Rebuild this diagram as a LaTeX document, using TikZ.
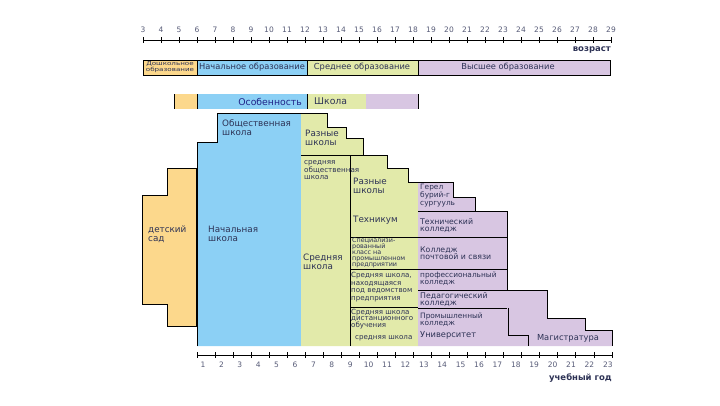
\documentclass[tikz,border=0pt]{standalone}
\usepackage{fontspec}
\setmainfont{DejaVu Sans}
\newfontfamily\widesans[FakeStretch=1.3]{DejaVu Sans}

\definecolor{kindercol}{RGB}{252,216,140}
\definecolor{primcol}{RGB}{140,208,245}
\definecolor{midcol}{RGB}{226,234,170}
\definecolor{highcol}{RGB}{216,198,226}
\definecolor{txtcol}{RGB}{45,50,85}

\begin{document}
\begin{tikzpicture}[x=1pt,y=-1pt,
    edge/.style={draw=black,line width=0.7pt},
    numlbl/.style={inner sep=0pt,text=txtcol!80,font=\fontsize{7.5}{8}\selectfont},
    boldlbl/.style={inner sep=0pt,text=txtcol,font=\bfseries\fontsize{8.5}{9}\selectfont},
    barlbl/.style={inner sep=0pt,text=txtcol,font=\fontsize{8.3}{9}\selectfont},
    biglbl/.style={inner sep=0pt,anchor=west,align=left,text=txtcol,font=\fontsize{8.8}{8.8}\selectfont},
    lbl/.style={inner sep=0pt,anchor=west,align=left,text=txtcol,font=\fontsize{7.8}{7.4}\selectfont},
    smalllbl/.style={inner sep=0pt,anchor=west,align=left,text=txtcol,font=\fontsize{6.4}{5.9}\selectfont}]
  \useasboundingbox (0,0) rectangle (720,405);

  % age axis
  \draw[edge] (143,40) -- (611,40);
  \foreach \n in {3,...,29} {
    \draw[edge] ({143+(\n-3)*18},37) -- ++(0,6);
    \node[numlbl] (a\n) at ({143+(\n-3)*18},30) {\n};
  }
  \node[boldlbl,anchor=east] (age) at (611,50) {возраст};

  % first bar
  \fill[kindercol] (143,60) rectangle (197,75);
  \fill[primcol] (197,60) rectangle (307,75);
  \fill[midcol] (307,60) rectangle (418,75);
  \fill[highcol] (418,60) rectangle (610,75);
  \draw[edge] (143,60) rectangle (610,75);
  \foreach \x in {197,307,418}
    \draw[edge] (\x,60) -- (\x,75);
  \node[inner sep=0pt,align=center,text=txtcol,font=\widesans\fontsize{5.5}{6}\selectfont]
    (pre) at (170,67.5) {Дошкольное\\образование};
  \node[barlbl] (primedu) at (252,67.5) {Начальное образование};
  \node[barlbl] (midedu) at (362,67.5) {Среднее образование};
  \node[barlbl] (highedu) at (508,67.5) {Высшее образование};

  % second bar
  \fill[kindercol] (174,94) rectangle (197,109);
  \fill[primcol] (197,94) rectangle (307,109);
  \fill[midcol] (307,94) rectangle (366,109);
  \fill[highcol] (366,94) rectangle (418,109);
  \foreach \x in {174,197,307,418}
    \draw[edge] (\x,94) -- (\x,109);
  \node[inner sep=0pt,anchor=east,text=txtcol!70!blue,font=\fontsize{9.3}{9}\selectfont]
    (feat) at (302,101.5) {Особенность};
  \node[inner sep=0pt,anchor=west,text=txtcol,font=\fontsize{9.3}{9}\selectfont]
    (school) at (314,101.5) {Школа};

  % kindergarten
  \fill[kindercol] (167,168) -- (196,168) -- (196,326) -- (167,326) -- (167,304)
    -- (142,304) -- (142,195) -- (167,195) -- cycle;
  \draw[edge] (167,168) -- (196,168) -- (196,326) -- (167,326) -- (167,304)
    -- (142,304) -- (142,195) -- (167,195) -- cycle;
  \node[biglbl] (kg) at (148,234) {детский\\сад};

  % primary school
  \fill[primcol] (197,142) -- (217,142) -- (217,113) -- (301,113) -- (301,346)
    -- (197,346) -- cycle;
  \draw[edge] (197,346) -- (197,142) -- (217,142) -- (217,113) -- (301,113);
  \node[biglbl] (pub) at (222,127.5) {Общественная\\школа};
  \node[biglbl] (prim) at (208,234) {Начальная\\школа};

  % secondary school
  \fill[midcol] (301,113) -- (327,113) -- (327,127) -- (346,127) -- (346,138)
    -- (363,138) -- (363,155) -- (387,155) -- (387,168) -- (408,168) -- (408,182)
    -- (418,182) -- (418,346) -- (301,346) -- cycle;
  \draw[edge] (301,113) -- (327,113) -- (327,127) -- (346,127) -- (346,138)
    -- (363,138) -- (363,155) -- (387,155) -- (387,168) -- (408,168) -- (408,182)
    -- (418,182) -- (418,346);
  \draw[edge] (301,155) -- (363,155);
  \draw[edge] (350,155) -- (350,346);
  \foreach \y in {237,269,307}
    \draw[edge] (350,\y) -- (418,\y);
  \node[biglbl] (var1) at (305,138) {Разные\\школы};
  \node[lbl,font=\fontsize{7.2}{6.9}\selectfont] (midpub) at (304,170)
    {средняя\\общественная\\школа};
  \node[biglbl] (mid) at (303,261.5) {Средняя\\школа};
  \node[biglbl] (var2) at (353,186) {Разные\\школы};
  \node[biglbl] (tech) at (353,220) {Техникум};
  \node[smalllbl] (spec) at (352,252.5)
    {Специализи-\\рованный\\класс на\\промышленном\\предприятии};
  \node[lbl,font=\fontsize{7.1}{7.6}\selectfont] (entsch) at (351,287)
    {Средняя школа,\\находящаяся\\под ведомством\\предприятия};
  \node[lbl,font=\fontsize{7.1}{6.9}\selectfont] (dist) at (351,319)
    {Средняя школа\\дистанционного\\обучения};
  \node[lbl,font=\fontsize{7.1}{6.9}\selectfont] (midsch) at (355,338) {средняя школа};

  % higher education
  \fill[highcol] (418,182) -- (453,182) -- (453,197) -- (475,197) -- (475,211)
    -- (507,211) -- (507,290) -- (547,290) -- (547,318) -- (585,318) -- (585,330)
    -- (612,330) -- (612,346) -- (418,346) -- cycle;
  \draw[edge] (418,182) -- (453,182) -- (453,197) -- (475,197) -- (475,211)
    -- (507,211) -- (507,290) -- (547,290) -- (547,318) -- (585,318) -- (585,330)
    -- (612,330) -- (612,346);
  \draw[edge] (418,211) -- (475,211);
  \foreach \y in {237,269,290,308}
    \draw[edge] (418,\y) -- (507,\y);
  \draw[edge] (508,308) -- (508,335) -- (528,335) -- (528,346);
  \node[lbl,font=\fontsize{7.4}{8}\selectfont] (gerel) at (420,196)
    {Герел\\бурий-г\\сургууль};
  \node[lbl] (techcol) at (420,225.5) {Технический\\колледж};
  \node[lbl] (postcol) at (420,253) {Колледж\\почтовой и связи};
  \node[lbl,font=\fontsize{7.4}{7.2}\selectfont] (profcol) at (420,278.5)
    {профессиональный\\колледж};
  \node[lbl] (pedcol) at (420,299.5) {Педагогический\\колледж};
  \node[lbl,font=\fontsize{7.4}{7}\selectfont] (indcol) at (420,320)
    {Промышленный\\колледж};
  \node[lbl,font=\fontsize{8.3}{8}\selectfont] (univ) at (420,335) {Университет};
  \node[lbl,anchor=center,font=\fontsize{8.3}{8}\selectfont] (mag) at (568,338)
    {Магистратура};

  % school year axis
  \draw[edge] (197,355) -- (612,355);
  \foreach \k in {0,...,23}
    \draw[edge] ({197+\k*18.04},352) -- ++(0,6);
  \foreach \k in {1,...,23}
    \node[numlbl] (y\k) at ({203+(\k-1)*18.4},365) {\k};
  \node[boldlbl,anchor=east] (year) at (612,378) {учебный год};
\end{tikzpicture}
\end{document}
